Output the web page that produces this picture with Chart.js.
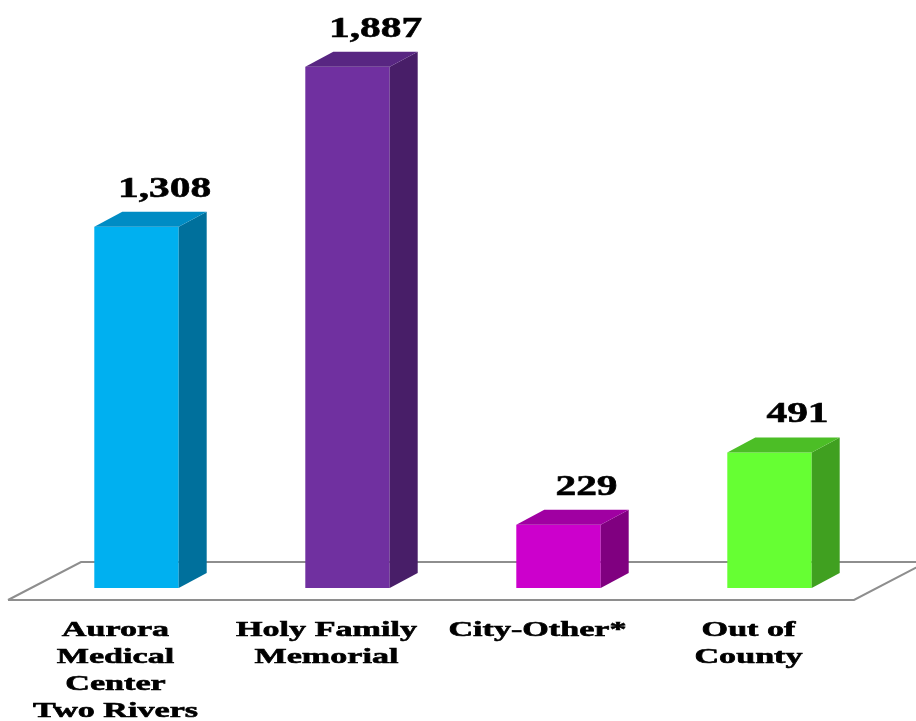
<!DOCTYPE html>
<html lang="en">
<head>
    <meta charset="UTF-8">
    <script src="https://cdn.jsdelivr.net/npm/chart.js"></script>
    <title>Chart</title>
    <style>
        html, body { margin: 0; padding: 0; background: #fff; }
        #box { width: 916px; height: 721px; }
    </style>
</head>
<body>
    <div id="box">
        <canvas id="grafico"></canvas>
    </div>
<script>
    const categorias = [
        ['Aurora', 'Medical', 'Center', 'Two Rivers'],
        ['Holy Family', 'Memorial'],
        ['City-Other*'],
        ['Out of', 'County']
    ];
    const valores = [1308, 1887, 229, 491];
    const rotulos = ['1,308', '1,887', '229', '491'];

    const corFrente = ['#00B0F0', '#7030A0', '#CC00CC', '#66FF33'];
    const corLado = ['#00709C', '#481E68', '#800080', '#40A020'];
    const corTopo = ['#008CC4', '#582682', '#A000A2', '#4CBE26'];

    const dx = 28, dy = 15; // profundidade do efeito 3d

    function textoEsticado(ctx, txt, x, y, sx) {
        ctx.save();
        ctx.translate(x, y);
        ctx.scale(sx, 1);
        ctx.fillText(txt, 0, 0);
        ctx.lineWidth = 0.6;
        ctx.strokeStyle = '#000';
        ctx.strokeText(txt, 0, 0);
        ctx.restore();
    }

    const barras3d = {
        id: 'barras3d',
        beforeDatasetsDraw(chart) {
            const ctx = chart.ctx;
            const base = chart.scales.y.getPixelForValue(0);
            ctx.save();
            ctx.strokeStyle = '#8E8E8E';
            ctx.lineWidth = 2;
            ctx.beginPath();
            ctx.moveTo(8, base + 12);
            ctx.lineTo(854, base + 12);
            ctx.lineTo(854 + 73, base + 12 - 38);
            ctx.moveTo(8, base + 12);
            ctx.lineTo(81, base - 26);
            ctx.lineTo(930, base - 26);
            ctx.stroke();
            ctx.restore();
        },
        afterDatasetsDraw(chart) {
            const ctx = chart.ctx;
            const meta = chart.getDatasetMeta(0);
            meta.data.forEach((bar, i) => {
                const p = bar.getProps(['x', 'y', 'base', 'width'], true);
                const l = p.x - p.width / 2, r = p.x + p.width / 2;
                ctx.save();
                ctx.fillStyle = corLado[i];
                ctx.beginPath();
                ctx.moveTo(r, p.y);
                ctx.lineTo(r + dx, p.y - dy);
                ctx.lineTo(r + dx, p.base - dy);
                ctx.lineTo(r, p.base);
                ctx.closePath();
                ctx.fill();
                ctx.fillStyle = corTopo[i];
                ctx.beginPath();
                ctx.moveTo(l, p.y);
                ctx.lineTo(l + dx, p.y - dy);
                ctx.lineTo(r + dx, p.y - dy);
                ctx.lineTo(r, p.y);
                ctx.closePath();
                ctx.fill();

                ctx.fillStyle = '#000';
                ctx.font = 'bold 30px "Liberation Serif"';
                ctx.textAlign = 'center';
                ctx.textBaseline = 'alphabetic';
                textoEsticado(ctx, rotulos[i], p.x + dx, p.y - 30, 1.38);
                ctx.restore();
            });
        },
        afterDraw(chart) {
            const ctx = chart.ctx;
            const xs = chart.scales.x;
            const base = chart.scales.y.getPixelForValue(0);
            ctx.save();
            ctx.fillStyle = '#000';
            ctx.font = 'bold 22px "Liberation Serif"';
            ctx.textAlign = 'center';
            ctx.textBaseline = 'alphabetic';
            categorias.forEach((linhas, i) => {
                const cx = xs.getPixelForValue(i) - 21;
                linhas.forEach((t, j) => {
                    textoEsticado(ctx, t, cx, base + 48 + j * 27, 1.55);
                });
            });
            ctx.restore();
        }
    };

    const ctx = document.getElementById('grafico').getContext('2d');
    new Chart(ctx, {
        type: 'bar',
        data: {
            labels: categorias,
            datasets: [{
                data: valores,
                backgroundColor: corFrente,
                borderWidth: 0,
                categoryPercentage: 1,
                barPercentage: 0.4
            }]
        },
        options: {
            responsive: true,
            maintainAspectRatio: false,
            animation: false,
            layout: { padding: { top: 8, bottom: 133, left: 31, right: 41 } },
            plugins: {
                legend: { display: false },
                tooltip: { enabled: false }
            },
            scales: {
                x: { display: false },
                y: { display: false, min: 0, max: 2100 }
            }
        },
        plugins: [barras3d]
    });
</script>
</body>
</html>
